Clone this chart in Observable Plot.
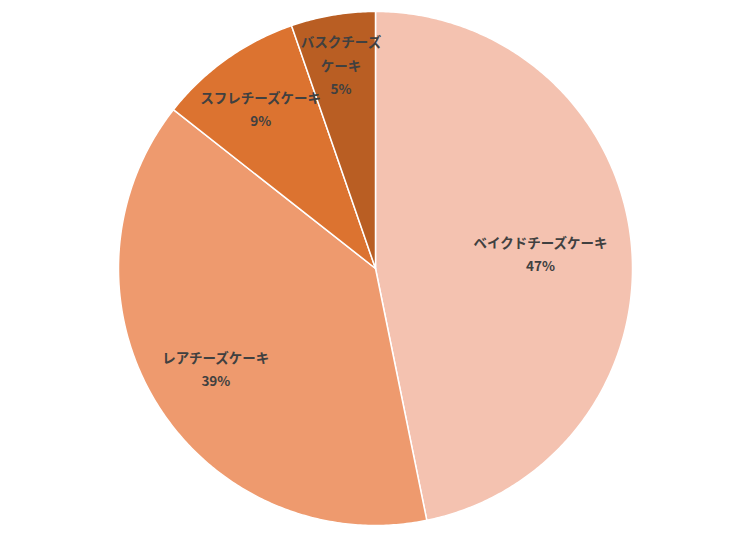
<!DOCTYPE html>
<html><head><meta charset="utf-8">
<script src="https://cdn.jsdelivr.net/npm/d3@7"></script>
<script src="https://cdn.jsdelivr.net/npm/@observablehq/plot@0.6"></script>
<style>body{margin:0;background:#fff;}#c{width:750px;height:538px;}</style>
</head><body><div id="c"></div>
<script>
const categories = ["ベイクドチーズケーキ", "レアチーズケーキ", "スフレチーズケーキ", "バスクチーズケーキ"];
const labelNames = ["ベイクドチーズケーキ", "レアチーズケーキ", "スフレチーズケーキ", "バスクチーズ\nケーキ"];
const values = [46.8, 38.8, 9.1, 5.3];
const colors = ["#F4C2B0", "#EE9A6E", "#DC7330", "#B95E23"];

// rendering helpers
const labelRadius = [0.645, 0.73, 0.77, 0.81];
const W = 750, H = 538, R = 257, CX = 375, CY = 268;
const total = d3.sum(values);
const polys = [];
const labels = [];
let cum = 0;
values.forEach((v, i) => {
  const a0 = cum / total * 2 * Math.PI;
  cum += v;
  const a1 = cum / total * 2 * Math.PI;
  const n = Math.max(4, Math.ceil((a1 - a0) / 0.01));
  polys.push({name: categories[i], x: 0, y: 0, k: 0});
  for (let j = 0; j <= n; j++) {
    const a = a0 + (a1 - a0) * j / n;
    polys.push({name: categories[i], x: Math.sin(a), y: Math.cos(a), k: j + 1});
  }
  polys.push({name: categories[i], x: 0, y: 0, k: n + 2});
  const am = (a0 + a1) / 2;
  labels.push({name: categories[i], x: Math.sin(am) * labelRadius[i], y: Math.cos(am) * labelRadius[i],
    text: labelNames[i] + "\n" + Math.round(v / total * 100) + "%"});
});

const chart = Plot.plot({
  width: W, height: H,
  margin: 0,
  x: {domain: [-CX / R, (W - CX) / R], axis: null},
  y: {domain: [-(H - CY) / R, CY / R], axis: null},
  color: {domain: categories, range: colors},
  style: {fontFamily: "'Noto Sans CJK JP', sans-serif", background: "#fff"},
  marks: [
    Plot.line(polys, {x: "x", y: "y", z: "name", fill: "name", stroke: "#fff", strokeWidth: 1.5, strokeLinejoin: "round"}),
    Plot.text(labels, {x: "x", y: "y", text: "text", fill: "#404040", fontSize: 13.5, fontWeight: "bold", lineHeight: 1.72})
  ]
});
document.getElementById("c").appendChild(chart);
</script>
</body></html>
